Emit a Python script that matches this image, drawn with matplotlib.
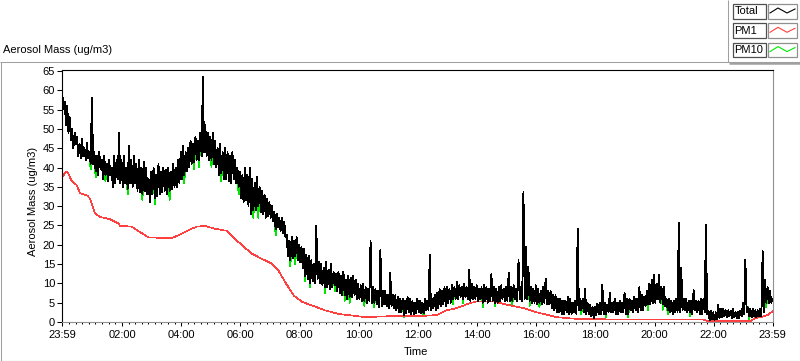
import matplotlib
matplotlib.use("Agg")
import numpy as np
import matplotlib.pyplot as plt
from matplotlib.lines import Line2D
from matplotlib.patches import Rectangle

plt.rcParams['font.family'] = ['Liberation Sans', 'DejaVu Sans']
plt.rcParams['font.size'] = 8

# minutes since the 23:59 start, one sample every 2.5 minutes
minutes = [i * 2.5 for i in range(577)]

# Total aerosol mass (ug/m3), one row per hour (upper / lower edge of the noise)
total = [
    59, 55, 57, 51, 56, 49, 53, 47, 50, 45, 49, 46, 48, 43, 46, 42.5, 47.5, 43, 45, 42, 46.5, 42.5, 44, 41,
    58, 41, 44, 39, 43, 38, 44, 39.5, 42, 37, 43, 38, 41, 36.5, 42, 38, 40, 35, 43, 36, 42, 37, 49, 36,
    42, 35, 43, 36, 40, 34.5, 45.5, 36, 42, 35, 43, 36, 41, 34, 42, 33.5, 40, 33, 41.5, 34, 40, 33, 37, 31,
    39, 33, 40, 32, 38, 32.5, 41, 33, 39, 33.5, 40, 34, 39.5, 33, 40, 34, 39, 34.5, 41, 35, 40, 35, 42, 36,
    44, 37, 45.5, 38, 44, 39, 45, 40, 47, 41, 46, 41.5, 48, 42, 47, 42, 49, 43, 63.5, 44, 51, 43, 49, 42,
    48, 42, 49, 41, 47, 40, 45, 38, 46, 38.5, 44, 37, 45, 37, 44, 36.5, 43, 36, 44, 37, 42, 36, 40, 35,
    39, 32, 38, 31, 40, 31.5, 38, 30, 40, 28, 37, 29, 36, 29, 37.5, 30, 35, 28.5, 34, 28, 33, 27, 32, 27.5,
    31, 27, 30, 26, 28.5, 24, 28, 24.5, 27, 23.5, 27, 23, 26, 22, 22.5, 17, 21, 16, 22, 16.5, 21, 17, 22, 16,
    20, 15.5, 19.5, 14, 19, 12, 17.5, 11, 17, 10, 16, 10.5, 15, 10, 25, 11, 15.5, 10, 15, 9.5, 14, 9, 15.5, 9,
    13.5, 8.6, 15, 9, 13, 9.5, 12.5, 8, 13, 7.5, 12, 7, 13, 7, 11, 6, 12, 6.5, 11.5, 6.5, 12, 7, 11, 6,
    10, 6, 9.5, 5.5, 10, 5.5, 9, 5, 8.5, 5.5, 21, 5, 9, 5, 8.5, 4.5, 8, 3.8, 18.6, 4, 8, 4.5, 8, 4,
    7, 3.5, 12.7, 4, 7, 3.5, 6.9, 3, 6.5, 2.5, 6, 2.5, 6, 1.8, 5.5, 2.2, 6.5, 2.5, 6, 2, 5.5, 2, 5, 2.2,
    6, 2.5, 5.5, 2.2, 5, 2.2, 6, 3, 5.5, 3, 17.3, 3, 6, 3.5, 7, 3, 7.5, 3.5, 8.5, 4, 8, 4.5, 9, 4,
    9, 5, 8.5, 5, 9.5, 6, 9, 6, 10.3, 6, 9.5, 6.5, 9, 6, 10, 6.5, 9, 6, 13.6, 5.5, 10, 6, 9, 6,
    9.5, 5.5, 8.5, 6, 9, 5, 9.5, 5.5, 9, 5, 8.5, 5.5, 12.4, 5.5, 9, 5, 8.5, 5, 9, 5.5, 9.5, 6, 8.5, 5.5,
    9, 5.5, 12.7, 5.5, 9, 5.5, 9.5, 6, 8.5, 5.5, 16, 6, 9, 5.5, 33.8, 6, 19.5, 6, 14.3, 5.5, 9, 5, 8.5, 5,
    9.5, 4.5, 8.5, 5, 8, 4.5, 9, 5, 11.2, 4.5, 8, 4.5, 8, 3.5, 7, 3, 6.9, 2.5, 6, 2.5, 6, 2, 5.5, 2,
    5.5, 2.5, 6.5, 2, 6, 2, 5, 2.5, 5.5, 2, 24.2, 3, 6, 3, 6, 2.5, 8.5, 2, 5, 2, 4.5, 1.5, 4, 1,
    4, 1.7, 4.8, 2, 5, 2, 9.7, 2, 5, 2, 4.5, 2.5, 7.5, 2.5, 5, 2.5, 6, 2, 5, 2, 5.5, 2.5, 5, 2.5,
    7.5, 2, 6, 2, 6, 3, 5.5, 2.5, 6.5, 3, 6, 2.5, 9, 3, 7, 3, 6.5, 4, 8, 4.5, 10, 4.5, 11, 5,
    12.3, 5, 10, 6, 12.3, 5, 9, 4.5, 9, 4, 6, 3, 6, 2.5, 5.5, 2, 5.5, 2.5, 6, 2.5, 25.7, 2.5, 14, 3,
    6, 3, 6, 2.5, 5.5, 2.5, 5.5, 2, 8.2, 3, 5.5, 2.5, 5.5, 2, 6, 2, 6, 2.5, 25.1, 2, 3, 0.5, 3, 0.8,
    2.5, 0.5, 2.5, 0.8, 4.4, 1, 3.5, 1.2, 3.5, 1.5, 3, 1.2, 3, 1.5, 3, 1, 3.5, 1.2, 2.5, 1, 2.5, 1, 3, 1.5,
    5, 2, 16.2, 2.5, 3.8, 1.5, 3.5, 1.2, 3.5, 1.5, 3, 1.2, 3, 1.5, 3.5, 1.5, 18.3, 2.5, 11, 5, 9, 5, 8, 5,
    6,
]

# PM1 (smooth), read at irregular times
pm1_t = [0, 5, 10, 19, 29, 36, 50, 56, 66, 77, 97, 114, 117, 141, 151, 175,
         198, 222, 243, 256, 273, 290, 307, 334, 348, 361, 384, 404, 425,
         438, 452, 469, 486, 506, 533, 560, 614, 662, 722, 759, 779, 800,
         827, 840, 874, 901, 935, 962, 1003, 1043, 1084, 1300, 1310, 1395,
         1405, 1418, 1432, 1440]
pm1_v = [37.5, 38.5, 39, 36.5, 35.5, 33.3, 32.8, 32, 28.1, 27.2, 26.6, 25.5,
         24.9, 24.7, 23.8, 21.9, 21.8, 21.7, 22.9, 23.8, 24.7, 24.9, 24.2,
         23.6, 21.7, 20.3, 17.7, 16.4, 15.1, 13.4, 10.3, 6.9, 5.2, 4.3, 3.0,
         2.1, 1.25, 1.5, 1.5, 1.8, 3.0, 3.6, 4.9, 5.3, 5.3, 4.5, 3.6, 2.5,
         1.25, 0.8, 0.7, 0.65, 0.2, 0.2, 1.0, 1.3, 1.9, 2.8]

# PM10 follows Total except at these samples, where it sits lower
pm10_dip_t = [57.5, 67.5, 87.5, 132.5, 162.5, 187.5, 217.5, 247.5, 267.5, 277.5,
              302.5, 322.5, 357.5, 387.5, 397.5, 432.5, 462.5, 472.5, 492.5,
              502.5, 532.5, 552.5, 572.5, 582.5, 612.5, 632.5, 692.5, 732.5,
              792.5, 812.5, 852.5, 877.5, 912.5, 947.5, 967.5, 1052.5, 1102.5,
              1147.5, 1187.5, 1217.5, 1227.5, 1272.5, 1392.5, 1427.5]
pm10_dip_v = [39.5, 37.5, 36.5, 33, 31.5, 30.5, 31.5, 36, 39.5, 40,
              40, 36.5, 33, 27, 27, 22.5, 14.5, 15, 10.5,
              9, 7.5, 8, 5.5, 5, 4.2, 3.8, 1.2, 1.5,
              4.5, 4.8, 3.8, 4.2, 4.2, 4.2, 3.8, 2, 1.3,
              1.2, 3, 3.2, 2, 1.5, 0.8, 3.8]

tick_min = [0, 121, 241, 361, 481, 601, 721, 841, 961, 1081, 1201, 1321, 1440]
tick_lab = ['23:59', '02:00', '04:00', '06:00', '08:00', '10:00', '12:00',
            '14:00', '16:00', '18:00', '20:00', '22:00', '23:59']
y_ticks = list(range(0, 66, 5))

pm10 = list(total)
for t, v in zip(pm10_dip_t, pm10_dip_v):
    pm10[minutes.index(t)] = v

W, H = 800, 361
fig = plt.figure(figsize=(W / 100, H / 100), dpi=100)


def fx(x):
    return x / W


def fy(y):
    return 1 - y / H


def hline(x0, x1, y, color, lw=0.75):
    fig.add_artist(Line2D([fx(x0), fx(x1)], [fy(y), fy(y)], transform=fig.transFigure,
                          color=color, lw=lw, solid_capstyle='butt'))


def vline(x, y0, y1, color, lw=0.75):
    fig.add_artist(Line2D([fx(x), fx(x)], [fy(y0), fy(y1)], transform=fig.transFigure,
                          color=color, lw=lw, solid_capstyle='butt'))


# panel frame
hline(0, 800, 61.5, '#a0a0a0')
hline(729, 800, 62.5, '#a0a0a0', lw=1.8)
vline(727.5, 0, 61.5, '#a0a0a0')
vline(799.5, 0, 361, '#a0a0a0')
vline(0.5, 61.5, 361, '#a0a0a0')
hline(0, 800, 360.5, '#202020')

ax = fig.add_axes([fx(62.3), fy(322), (772.5 - 62.3) / W, (322 - 70) / H])
ax.plot(minutes, pm10, color='#00e600', lw=0.6, antialiased=False)
ax.plot(pm1_t, pm1_v, color='#ff4040', lw=0.45, antialiased=False)
ax.plot(minutes, total, color='black', lw=0.6, antialiased=False)
ax.set_xlim(0, 1440)
ax.set_ylim(0, 65.25)

ax.set_yticks(y_ticks)
ax.set_xticks(tick_min)
ax.set_xticklabels(tick_lab)
minor = []
for a, b in zip(tick_min[:-1], tick_min[1:]):
    minor += list(np.linspace(a, b, 10)[1:-1])
ax.set_xticks(minor, minor=True)

ax.tick_params(axis='y', direction='out', length=3.6, width=0.75, pad=1.5, labelsize=8)
ax.tick_params(axis='x', which='major', direction='out', length=3, width=0.75, pad=2.5, labelsize=8)
ax.tick_params(axis='x', which='minor', direction='out', length=1.6, width=0.75)

ax.spines['top'].set_color('black')
ax.spines['left'].set_color('black')
ax.spines['bottom'].set_color('#909090')
ax.spines['right'].set_color('#909090')
for s in ax.spines.values():
    s.set_linewidth(0.8)

fig.text(fx(3), fy(50), 'Aerosol Mass (ug/m3)', ha='left', va='center', fontsize=8)
fig.text(fx(33), fy(201), 'Aerosol Mass (ug/m3)', rotation=90, ha='center', va='center', fontsize=8)
fig.text(fx(416), fy(352), 'Time', ha='center', va='center', fontsize=8)

# legend
names = ['Total', 'PM1', 'PM10']
colors = ['black', '#ff4040', '#00e600']
for i, (name, col) in enumerate(zip(names, colors)):
    top = 4 + 19.3 * i
    fig.add_artist(Rectangle((fx(732.5), fy(top + 14.5)), 33.5 / W, 14.5 / H,
                             transform=fig.transFigure, facecolor='white',
                             edgecolor='#505050', lw=0.9))
    fig.add_artist(Rectangle((fx(767.5), fy(top + 14.5)), 29.5 / W, 14.5 / H,
                             transform=fig.transFigure, facecolor='white',
                             edgecolor='#909090', lw=0.9))
    fig.text(fx(734.5), fy(top + 7.5), name, ha='left', va='center', fontsize=8)
    zx = [770, 778, 787, 795]
    zy = [top + 9, top + 4, top + 9, top + 5]
    fig.add_artist(Line2D([fx(x) for x in zx], [fy(y) for y in zy],
                          transform=fig.transFigure, color=col, lw=0.8))

fig.savefig('out.png', dpi=100)
